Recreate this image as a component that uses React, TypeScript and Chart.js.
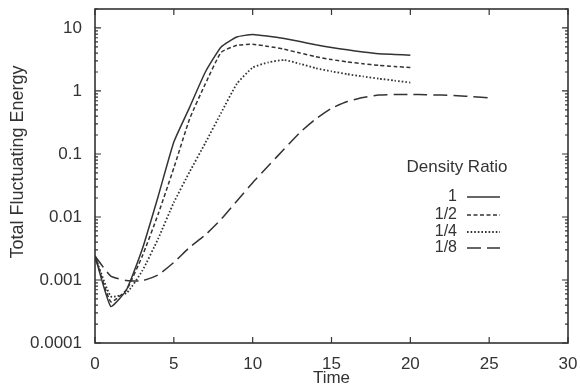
import { useEffect, useRef } from "react";
import { Chart, registerables } from "chart.js";

Chart.register(...registerables);

// ---- data ----
const times = [0, 1, 2, 3, 4, 5, 6, 7, 8, 9, 10, 11, 12, 13, 14, 15, 16, 17, 18, 19, 20];
const timesLong = [0, 1, 2, 3, 4, 5, 6, 7, 8, 9, 10, 11, 12, 13, 14, 15, 16, 17, 18, 19, 20, 21, 22, 23, 24, 25];

const energyRatio1 = [0.0024, 0.00038, 0.0007, 0.0031, 0.021, 0.155, 0.55, 2.0, 5.0, 7.2, 7.9, 7.4, 6.8, 6.1, 5.4, 4.9, 4.5, 4.15, 3.9, 3.8, 3.7];
const energyRatio2 = [0.0024, 0.00045, 0.0007, 0.0024, 0.011, 0.06, 0.36, 1.3, 4.1, 5.3, 5.5, 5.1, 4.6, 4.0, 3.5, 3.15, 2.9, 2.7, 2.55, 2.45, 2.35];
const energyRatio4 = [0.0024, 0.00055, 0.00062, 0.0014, 0.0045, 0.017, 0.052, 0.15, 0.45, 1.3, 2.35, 2.85, 3.1, 2.7, 2.3, 2.05, 1.85, 1.7, 1.57, 1.46, 1.36];
const energyRatio8 = [0.0024, 0.00115, 0.00098, 0.00097, 0.0012, 0.0019, 0.0033, 0.0052, 0.0092, 0.018, 0.035, 0.065, 0.12, 0.22, 0.36, 0.53, 0.68, 0.79, 0.86, 0.88, 0.88, 0.87, 0.86, 0.84, 0.81, 0.78];

const seriesLabels = ["1", "1/2", "1/4", "1/8"];
const xTickValues = [0, 5, 10, 15, 20, 25, 30];
const yTickValues = [0.0001, 0.001, 0.01, 0.1, 1, 10];
const yTickLabels = ["0.0001", "0.001", "0.01", "0.1", "1", "10"];
const legendTitle = "Density Ratio";
const xTitle = "Time";
const yTitle = "Total Fluctuating Energy";

const INK = "#333333";
const FONT = "'Liberation Sans', Arial, Helvetica, sans-serif";

const dashes: number[][] = [[], [4, 2.5], [1.6, 2], [14, 6]];

const framePlugin = {
  id: "framePlugin",
  afterDraw(chart: any) {
    const { ctx, chartArea: a, scales } = chart;
    const xs = scales.x;
    const ys = scales.y;
    ctx.save();
    ctx.strokeStyle = INK;
    ctx.lineWidth = 1.6;
    ctx.strokeRect(a.left, a.top, a.right - a.left, a.bottom - a.top);

    // inward ticks on x
    ctx.lineWidth = 1.2;
    ctx.beginPath();
    for (const v of xTickValues) {
      const px = xs.getPixelForValue(v);
      ctx.moveTo(px, a.bottom);
      ctx.lineTo(px, a.bottom - 6);
      ctx.moveTo(px, a.top);
      ctx.lineTo(px, a.top + 6);
    }
    // inward ticks on y (major + minor)
    for (let d = -4; d <= 1; d++) {
      for (let m = 1; m <= 9; m++) {
        const v = m * Math.pow(10, d);
        if (v > ys.max * 1.0001) break;
        const py = ys.getPixelForValue(v);
        const len = m === 1 ? 6 : 3;
        ctx.moveTo(a.left, py);
        ctx.lineTo(a.left + len, py);
        ctx.moveTo(a.right, py);
        ctx.lineTo(a.right - len, py);
      }
    }
    ctx.stroke();

    // y title
    ctx.fillStyle = INK;
    ctx.save();
    ctx.translate(18, 162);
    ctx.rotate(-Math.PI / 2);
    ctx.font = `18px ${FONT}`;
    ctx.textAlign = "center";
    ctx.textBaseline = "middle";
    ctx.fillText(yTitle, 0, 0);
    ctx.restore();

    // legend
    ctx.font = `17px ${FONT}`;
    ctx.textAlign = "center";
    ctx.textBaseline = "middle";
    ctx.fillText(legendTitle, 457, 167);
    const rows = [197, 215, 232, 248];
    ctx.font = `16px ${FONT}`;
    ctx.textAlign = "right";
    chart.data.datasets.forEach((ds: any, i: number) => {
      const y = rows[i];
      ctx.fillText(ds.label, 457, y);
      ctx.save();
      ctx.strokeStyle = ds.borderColor;
      ctx.lineWidth = ds.borderWidth;
      ctx.setLineDash(ds.borderDash || []);
      ctx.beginPath();
      ctx.moveTo(467, y);
      ctx.lineTo(500, y);
      ctx.stroke();
      ctx.restore();
    });
    ctx.restore();
  },
};

function toPoints(xs: number[], ys: number[]) {
  return xs.map((x, i) => ({ x, y: ys[i] }));
}

export default function App() {
  const canvasRef = useRef<HTMLCanvasElement | null>(null);

  useEffect(() => {
    const canvas = canvasRef.current;
    if (!canvas) return;
    const seriesData = [
      toPoints(times, energyRatio1),
      toPoints(times, energyRatio2),
      toPoints(times, energyRatio4),
      toPoints(timesLong, energyRatio8),
    ];
    const chart = new Chart(canvas, {
      type: "line",
      data: {
        datasets: seriesLabels.map((label, i) => ({
          label,
          data: seriesData[i],
          borderColor: INK,
          borderWidth: i === 2 ? 1.8 : 1.5,
          borderDash: dashes[i],
          pointRadius: 0,
          fill: false,
          tension: 0.15,
        })),
      },
      options: {
        responsive: false,
        animation: false,
        layout: { padding: { top: 9, right: 12, left: 0, bottom: 0 } },
        plugins: { legend: { display: false }, tooltip: { enabled: false } },
        scales: {
          x: {
            type: "linear",
            min: 0,
            max: 30,
            grid: { display: false, drawTicks: false },
            border: { display: false },
            afterBuildTicks: (s: any) => {
              s.ticks = xTickValues.map((v) => ({ value: v }));
            },
            afterFit: (s: any) => {
              s.height = 42;
              s.paddingLeft = 0;
              s.paddingRight = 0;
              s.paddingTop = 0;
              s.paddingBottom = 0;
            },
            ticks: {
              padding: 11,
              color: INK,
              font: { family: FONT, size: 17 },
              maxRotation: 0,
              callback: (v: any) => String(v),
            },
            title: {
              display: true,
              text: xTitle,
              color: INK,
              font: { family: FONT, size: 17, lineHeight: 0.8 },
              padding: { top: 0, bottom: 0 },
            },
          },
          y: {
            type: "logarithmic",
            min: 0.0001,
            max: 20,
            grid: { display: false, drawTicks: false },
            border: { display: false },
            afterBuildTicks: (s: any) => {
              s.ticks = yTickValues.map((v) => ({ value: v }));
            },
            afterFit: (s: any) => {
              s.width = 95;
              s.paddingLeft = 0;
              s.paddingRight = 0;
              s.paddingTop = 0;
              s.paddingBottom = 0;
            },
            ticks: {
              padding: 13,
              color: INK,
              font: { family: FONT, size: 17 },
              callback: (_v: any, i: number) => yTickLabels[i],
            },
          },
        },
      },
      plugins: [framePlugin],
    });
    return () => chart.destroy();
  }, []);

  return (
    <div style={{ position: "fixed", left: 0, top: 0, width: 580, height: 385, background: "#fff" }}>
      <canvas ref={canvasRef} width={580} height={385} style={{ display: "block" }} />
    </div>
  );
}
